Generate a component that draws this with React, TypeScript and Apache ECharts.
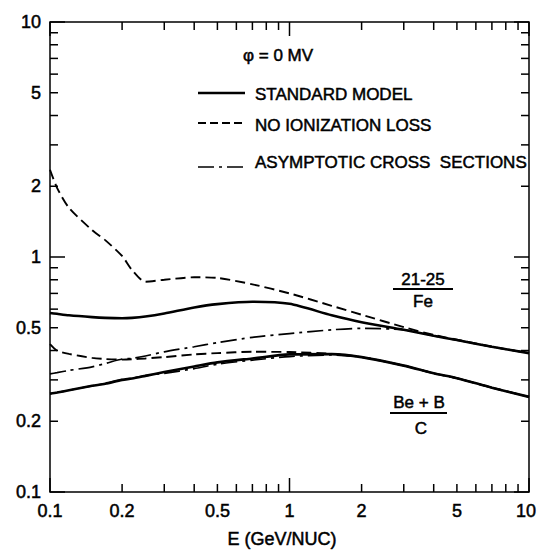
import React, { useEffect, useRef } from "react";
import * as echarts from "echarts";

// Energy grid (GeV/nucleon)
const energy = [0.1, 0.107, 0.12, 0.15, 0.17, 0.2, 0.22, 0.25, 0.3, 0.4, 0.5, 0.7, 1, 1.5, 2, 3, 4, 5, 7, 10];

// (21-25)/Fe ratio
const heavyStandard = [0.578, 0.573, 0.565, 0.555, 0.551, 0.549, 0.551, 0.558, 0.575, 0.61, 0.63, 0.645, 0.632, 0.565, 0.528, 0.49, 0.462, 0.443, 0.415, 0.39];
const heavyNoIon = [2.35, 1.97, 1.62, 1.3, 1.18, 1.01, 0.88, 0.785, 0.8, 0.82, 0.815, 0.765, 0.7, 0.62, 0.568, 0.503, 0.466, 0.445, 0.415, 0.39];
const heavyAsym = [0.318, 0.322, 0.329, 0.341, 0.352, 0.368, 0.37, 0.379, 0.395, 0.415, 0.432, 0.455, 0.472, 0.49, 0.497, 0.49, 0.462, 0.443, 0.415, 0.39];

// (Be+B)/C ratio
const lightStandard = [0.262, 0.265, 0.271, 0.283, 0.289, 0.3, 0.304, 0.312, 0.324, 0.342, 0.356, 0.37, 0.385, 0.386, 0.375, 0.345, 0.32, 0.305, 0.278, 0.254];
const lightNoIon = [0.426, 0.4, 0.387, 0.372, 0.368, 0.366, 0.367, 0.37, 0.375, 0.385, 0.39, 0.395, 0.394, 0.387, 0.375, 0.345, 0.32, 0.305, 0.278, 0.254];
const lightAsym = [0.262, 0.265, 0.271, 0.283, 0.289, 0.301, 0.305, 0.313, 0.32, 0.335, 0.35, 0.364, 0.377, 0.383, 0.375, 0.345, 0.32, 0.305, 0.278, 0.254];

// Axes
const X_MIN = 0.1;
const X_MAX = 10;
const Y_MIN = 0.1;
const Y_MAX = 10;
const xTicks = [0.1, 0.2, 0.3, 0.4, 0.5, 0.6, 0.7, 0.8, 0.9, 1, 2, 3, 4, 5, 6, 7, 8, 9, 10];
const yTicks = [0.1, 0.2, 0.3, 0.4, 0.5, 0.6, 0.7, 0.8, 0.9, 1, 2, 3, 4, 5, 6, 7, 8, 9, 10];
const xTickLabels = [0.1, 0.2, 0.5, 1, 2, 5, 10];
const yTickLabels = [0.1, 0.2, 0.5, 1, 2, 5, 10];

const FONT = "'Liberation Sans', Arial, sans-serif";
const CHART_W = 537;

const isDecade = (v: number) => Math.abs(Math.log10(v) - Math.round(Math.log10(v))) < 1e-9;

const pairs = (ys: number[]) => energy.map((e, i) => [e, ys[i]]);

const SOLID = { color: "#000", width: 2.6, type: "solid" as const };
const DASHED = { color: "#000", width: 1.9, type: [10, 5] as any };
const DASHDOT = { color: "#000", width: 1.7, type: [16, 5, 3, 5] as any };

function textStyle(text: string, size: number, align: string) {
  return {
    text,
    fill: "#000",
    stroke: "#000",
    lineWidth: 0.5,
    font: `${size}px ${FONT}`,
    fontSize: size,
    fontFamily: FONT,
    align,
    textAlign: align,
    verticalAlign: "middle",
    textVerticalAlign: "middle",
  };
}

function txt(text: string, x: number, y: number, size: number, align = "left") {
  return { type: "text", x, y, silent: true, style: textStyle(text, size, align) };
}

function hline(x1: number, x2: number, y: number, dash: any, width: number) {
  return {
    type: "line",
    silent: true,
    shape: { x1, y1: y, x2, y2: y },
    style: { stroke: "#000", lineWidth: width, lineDash: dash },
  };
}

export default function App() {
  const ref = useRef<HTMLDivElement>(null);

  useEffect(() => {
    if (!ref.current) return;
    const chart = echarts.init(ref.current, undefined, { renderer: "svg" });

    const lineSeries = (name: string, ys: number[], style: any, z: number) => ({
      name,
      type: "line",
      data: pairs(ys),
      smooth: 0.25,
      symbol: "none",
      lineStyle: style,
      z,
      silent: true,
    });

    const tickLine = (x1: number, y1: number, x2: number, y2: number) => ({
      type: "line",
      shape: { x1, y1, x2, y2 },
      style: { stroke: "#000", lineWidth: 1.5 },
    });

    chart.setOption({
      animation: false,
      backgroundColor: "#fff",
      grid: {
        left: 50,
        right: 8,
        top: 22,
        bottom: 58,
        show: true,
        borderColor: "#000",
        borderWidth: 1.5,
        backgroundColor: "transparent",
      },
      xAxis: {
        type: "log",
        logBase: 10,
        min: X_MIN,
        max: X_MAX,
        axisLine: { show: false },
        axisTick: { show: false },
        axisLabel: { show: false },
        splitLine: { show: false },
      },
      yAxis: {
        type: "log",
        logBase: 10,
        min: Y_MIN,
        max: Y_MAX,
        axisLine: { show: false },
        axisTick: { show: false },
        axisLabel: { show: false },
        splitLine: { show: false },
      },
      series: [
        lineSeries("No ionization loss (21-25)/Fe", heavyNoIon, DASHED, 2),
        lineSeries("Asymptotic (21-25)/Fe", heavyAsym, DASHDOT, 2),
        lineSeries("No ionization loss (Be+B)/C", lightNoIon, DASHED, 2),
        lineSeries("Asymptotic (Be+B)/C", lightAsym, DASHDOT, 2),
        lineSeries("Standard (21-25)/Fe", heavyStandard, SOLID, 3),
        lineSeries("Standard (Be+B)/C", lightStandard, SOLID, 3),
        {
          type: "custom",
          coordinateSystem: "cartesian2d",
          clip: false,
          silent: true,
          z: 5,
          data: xTicks.map((v) => [v, Y_MIN]),
          encode: { x: 0, y: 1 },
          renderItem: (_p: any, api: any) => {
            const v = api.value(0);
            const b = api.coord([v, Y_MIN]);
            const t = api.coord([v, Y_MAX]);
            const len = isDecade(v) ? 14 : 8;
            return {
              type: "group",
              children: [
                tickLine(b[0], b[1], b[0], b[1] - len),
                tickLine(t[0], t[1], t[0], t[1] + len),
              ],
            };
          },
        },
        {
          type: "custom",
          coordinateSystem: "cartesian2d",
          clip: false,
          silent: true,
          z: 5,
          data: yTicks.map((v) => [X_MIN, v]),
          encode: { x: 0, y: 1 },
          renderItem: (_p: any, api: any) => {
            const v = api.value(1);
            const l = api.coord([X_MIN, v]);
            const r = api.coord([X_MAX, v]);
            const len = isDecade(v) ? 15 : 8;
            return {
              type: "group",
              children: [
                tickLine(l[0], l[1], l[0] + len, l[1]),
                tickLine(r[0], r[1], r[0] - len, r[1]),
              ],
            };
          },
        },
        {
          type: "custom",
          coordinateSystem: "cartesian2d",
          clip: false,
          silent: true,
          z: 5,
          data: xTickLabels.map((v) => [v, Y_MIN]),
          encode: { x: 0, y: 1 },
          renderItem: (_p: any, api: any) => {
            const v = api.value(0);
            const b = api.coord([v, Y_MIN]);
            // keep the last label inside the page
            const nearEdge = b[0] + 12 > CHART_W;
            return {
              type: "text",
              x: nearEdge ? CHART_W - 1 : b[0],
              y: b[1] + 19,
              style: textStyle(String(v), 18, nearEdge ? "right" : "center"),
            };
          },
        },
        {
          type: "custom",
          coordinateSystem: "cartesian2d",
          clip: false,
          silent: true,
          z: 5,
          data: yTickLabels.map((v) => [X_MIN, v]),
          encode: { x: 0, y: 1 },
          renderItem: (_p: any, api: any) => {
            const v = api.value(1);
            const l = api.coord([X_MIN, v]);
            return { type: "text", x: l[0] - 9, y: l[1], style: textStyle(String(v), 18, "right") };
          },
        },
      ],
      graphic: [
        txt("φ = 0 MV", 243, 55, 17),
        hline(198, 245, 93, null, 2.6),
        txt("STANDARD MODEL", 255, 94, 17),
        hline(198, 245, 123, [8, 4], 1.9),
        txt("NO IONIZATION LOSS", 255, 125, 17),
        hline(198, 245, 167, [16, 5, 3, 5], 1.7),
        txt("ASYMPTOTIC CROSS  SECTIONS", 255, 162, 17),
        txt("21-25", 423, 279, 17, "center"),
        hline(393, 453, 289, null, 2),
        txt("Fe", 423, 301, 17, "center"),
        txt("Be + B", 419, 402, 17, "center"),
        hline(390, 447, 413, null, 2),
        txt("C", 421, 428, 17, "center"),
        txt("E (GeV/NUC)", 282, 539, 18, "center"),
      ],
    });

    return () => chart.dispose();
  }, []);

  return (
    <div
      ref={ref}
      style={{ position: "absolute", left: 0, top: 0, width: 537, height: 550 }}
    />
  );
}
